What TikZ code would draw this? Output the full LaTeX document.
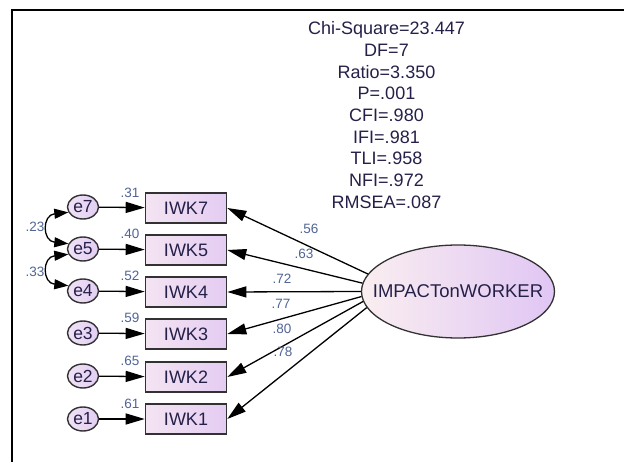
\documentclass[tikz,border=0pt]{standalone}
\usepackage{fontspec}
\setmainfont{Liberation Sans}
\usetikzlibrary{arrows.meta,shapes.geometric}
\definecolor{txt}{RGB}{36,32,72}
\definecolor{lbl}{RGB}{80,100,150}
\definecolor{edge}{RGB}{50,50,50}
\definecolor{boxL}{RGB}{244,228,242}
\definecolor{boxR}{RGB}{228,204,242}
\definecolor{ellL}{RGB}{250,238,240}
\definecolor{ellR}{RGB}{224,198,244}
\definecolor{errL}{RGB}{240,226,246}
\definecolor{errR}{RGB}{226,206,242}
\begin{document}
\begin{tikzpicture}[x=1pt,y=-1pt,
  obs/.style={draw=edge,line width=1.6pt,left color=boxL,right color=boxR,
    minimum width=81pt,minimum height=30pt,inner sep=0pt,text=txt,
    font=\fontsize{18}{20}\selectfont},
  err/.style={draw=edge,line width=1.4pt,ellipse,left color=errL,right color=errR,
    minimum width=31pt,minimum height=24pt,inner sep=0pt,text=txt,
    font=\fontsize{17.5}{19}\selectfont},
  lat/.style={draw=edge,line width=1.3pt,ellipse,left color=ellL,right color=ellR,
    minimum width=193pt,minimum height=93pt,inner sep=0pt},
  lattext/.style={text=txt,inner sep=0pt,font=\fontsize{18.5}{20}\selectfont},
  arr/.style={line width=1.3pt,draw=black,-{Triangle[length=19pt,width=11pt]}},
  cov/.style={line width=1.3pt,draw=black,{Triangle[length=14pt,width=10pt]}-{Triangle[length=14pt,width=10pt]}},
  num/.style={text=lbl,inner sep=0pt,font=\fontsize{13.5}{14}\selectfont},
]
\useasboundingbox (0,0) rectangle (624,462);
\draw[line width=2pt] (11.5,462) -- (11.5,10.3) -- (624,10.3);

% fit statistics
\node[text=txt,align=center,inner sep=0pt,font=\fontsize{18}{21.7}\selectfont] (fit) at (386.5,115)
  {Chi-Square=23.447\\DF=7\\Ratio=3.350\\P=.001\\CFI=.980\\IFI=.981\\TLI=.958\\NFI=.972\\RMSEA=.087};

% latent
\node[lat] (F) at (458,291.5) {};
\node[lattext] (Ft) at (F.center) {IMPACTonWORKER};

% observed
\node[obs] (b7) at (186,208) {IWK7};
\node[obs] (b5) at (186,250) {IWK5};
\node[obs] (b4) at (186,292) {IWK4};
\node[obs] (b3) at (186,334) {IWK3};
\node[obs] (b2) at (186,377) {IWK2};
\node[obs] (b1) at (186,419) {IWK1};

% errors
\node[err] (e7) at (83,207) {e7};
\node[err] (e5) at (83,249) {e5};
\node[err] (e4) at (83,291) {e4};
\node[err] (e3) at (83,333) {e3};
\node[err] (e2) at (83,376) {e2};
\node[err] (e1) at (83,419) {e1};

% error arrows
\foreach \k in {7,5,4,3,2,1} {\draw[arr] (e\k) -- (b\k);}

% loadings
\draw[arr] (F.169) -- (b7.east);
\draw[arr] (F.175) -- (b5.east);
\draw[arr] (F.180) -- (b4.east);
\draw[arr] (F.183.5) -- (b3.east);
\draw[arr] (F.186.5) -- (b2.east);
\draw[arr] (F.190) -- (b1.east);

% covariances
\draw[cov] (e7.200) .. controls (42,215) and (42,241) .. (e5.160);
\draw[cov] (e5.200) .. controls (42,257) and (42,283) .. (e4.160);

% R-squared labels
\node[num] (r7) at (130,192.5) {.31};
\node[num] (r5) at (130,234) {.40};
\node[num] (r4) at (130,276) {.52};
\node[num] (r3) at (130,318) {.59};
\node[num] (r2) at (130,361) {.65};
\node[num] (r1) at (130,404) {.61};

% covariance labels
\node[num] (c1) at (35,227) {.23};
\node[num] (c2) at (35,272) {.33};

% loading labels
\node[num] (l7) at (309,229) {.56};
\node[num] (l5) at (304,254) {.63};
\node[num] (l4) at (282,279) {.72};
\node[num] (l3) at (281,304) {.77};
\node[num] (l2) at (282,329) {.80};
\node[num] (l1) at (283,352) {.78};
\end{tikzpicture}
\end{document}
